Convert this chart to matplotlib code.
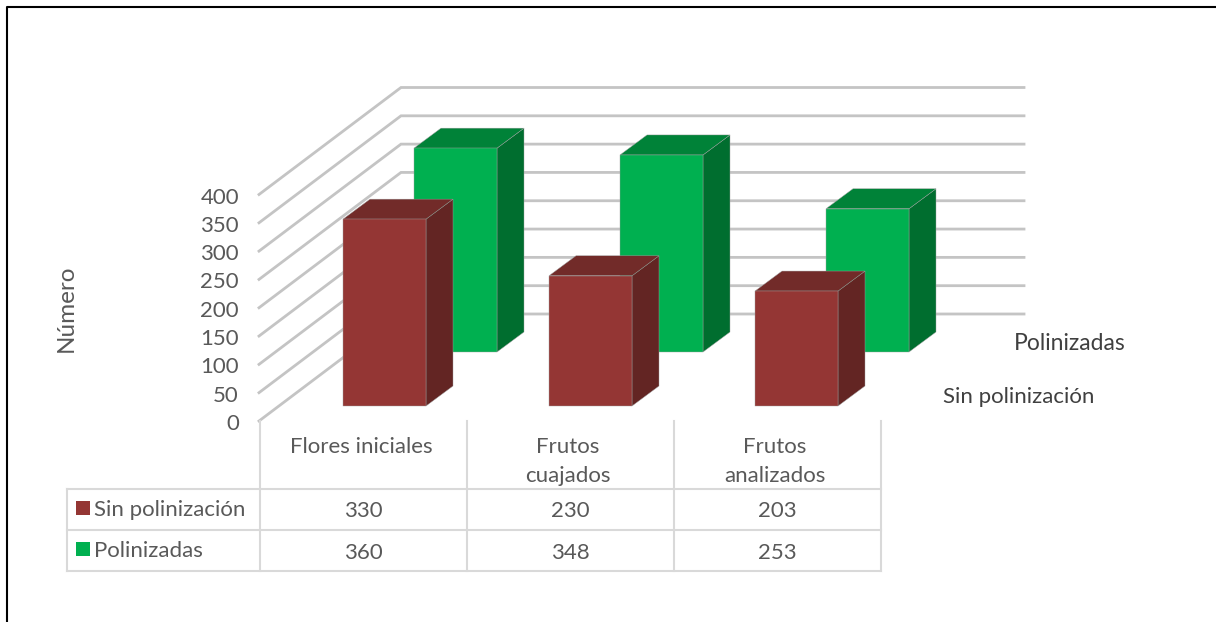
import matplotlib
matplotlib.use('Agg')
import matplotlib.pyplot as plt
from matplotlib.patches import Polygon, Rectangle

CATEGORIES = [['Flores iniciales'], ['Frutos', 'cuajados'], ['Frutos', 'analizados']]
SERIES_NAMES = ['Sin polinización', 'Polinizadas']
SIN_POLINIZACION = [330, 230, 203]
POLINIZADAS = [360, 348, 253]
Y_TICKS = [0, 50, 100, 150, 200, 250, 300, 350, 400]
Y_LABEL = 'Número'

RED = ('#943634', '#722b29', '#632523')
GREEN = ('#00b050', '#008238', '#006e2f')
GRID = '#c4c4c4'
TABLE = '#d9d9d9'
TEXT = '#595959'
FONT = 'Lato'

PX_PER_UNIT = 226.5 / 400
X0, Y0 = 259, 421           # front corner of the value axis
TABLE_X0 = 260
CAT_W = 207
BAR_STEP = 206
WALL_DX, WALL_DY = 142, -107


def val_h(v):
    return v * PX_PER_UNIT


def bar3d(ax, left, base, value, colors):
    w, dx, dy = 83, 27, -20
    top = base - val_h(value)
    ax.add_patch(Polygon([(left + w, base), (left + w + dx, base + dy),
                          (left + w + dx, top + dy), (left + w, top)],
                         fc=colors[2], ec='#a0a0a0', lw=0.3, zorder=4))
    ax.add_patch(Polygon([(left, top), (left + dx, top + dy),
                          (left + w + dx, top + dy), (left + w, top)],
                         fc=colors[1], ec='#a0a0a0', lw=0.3, zorder=4))
    ax.add_patch(Rectangle((left, top), w, base - top,
                           fc=colors[0], ec='#a0a0a0', lw=0.3, zorder=4))


def plot():
    fig = plt.figure(figsize=(12.16, 6.22), dpi=100)
    ax = fig.add_axes([0, 0, 1, 1])
    ax.set_xlim(0, 1216)
    ax.set_ylim(622, 0)
    ax.axis('off')

    # outer frame: left and top edges only
    ax.plot([7, 7, 1216], [622, 7, 7], color='black', lw=1.5)

    # gridlines: side wall + back wall
    for t in Y_TICKS:
        y = Y0 - val_h(t)
        ax.plot([X0, X0 + WALL_DX, 1024], [y, y + WALL_DY, y + WALL_DY],
                color=GRID, lw=2, zorder=1, solid_joinstyle='miter')
        ax.text(239, y + 3, str(t), ha='right', va='center', fontsize=16,
                color=TEXT, family=FONT)

    ax.text(66, 308, Y_LABEL, rotation=90, ha='center', va='center',
            fontsize=17.5, color=TEXT, family=FONT)

    # back row first so the front row covers it
    for i, v in enumerate(POLINIZADAS):
        bar3d(ax, 414 + BAR_STEP * i, 352, v, GREEN)
    for i, v in enumerate(SIN_POLINIZACION):
        bar3d(ax, 343 + BAR_STEP * i, 406, v, RED)

    ax.text(1014, 343, SERIES_NAMES[1], ha='left', va='center', fontsize=16.5,
            color='#404040', family=FONT)
    ax.text(943, 397, SERIES_NAMES[0], ha='left', va='center', fontsize=16,
            color='#404040', family=FONT)

    # data table
    left, rows = 67, [489, 530, 571]
    right = TABLE_X0 + CAT_W * len(CATEGORIES)
    for y in rows:
        ax.plot([left, right], [y, y], color=TABLE, lw=1.5, zorder=2)
    ax.plot([left, left], [rows[0], rows[-1]], color=TABLE, lw=1.5, zorder=2)
    for i in range(len(CATEGORIES) + 1):
        x = TABLE_X0 + CAT_W * i
        ax.plot([x, x], [Y0, rows[-1]], color=TABLE, lw=1.5, zorder=2)

    for i, lines in enumerate(CATEGORIES):
        cx = TABLE_X0 + CAT_W * (i + 0.5)
        for j, line in enumerate(lines):
            ax.text(cx - 2.5, 447 + 29 * j, line, ha='center', va='center', fontsize=16,
                    color=TEXT, family=FONT)
        ax.text(cx - 0.5, 511, str(SIN_POLINIZACION[i]), ha='center', va='center',
                fontsize=16, color=TEXT, family=FONT)
        ax.text(cx - 0.5, 553, str(POLINIZADAS[i]), ha='center', va='center',
                fontsize=16, color=TEXT, family=FONT)

    for name, color, y in zip(SERIES_NAMES, (RED[0], GREEN[0]), rows):
        ax.add_patch(Rectangle((76, y + 12), 14, 14, fc=color, ec='none', zorder=3))
        ax.text(94, y + 21, name, ha='left', va='center', fontsize=16,
                color=TEXT, family=FONT)

    fig.savefig('out.png', dpi=100, facecolor='white')
    plt.close()


if __name__ == '__main__':
    plot()
